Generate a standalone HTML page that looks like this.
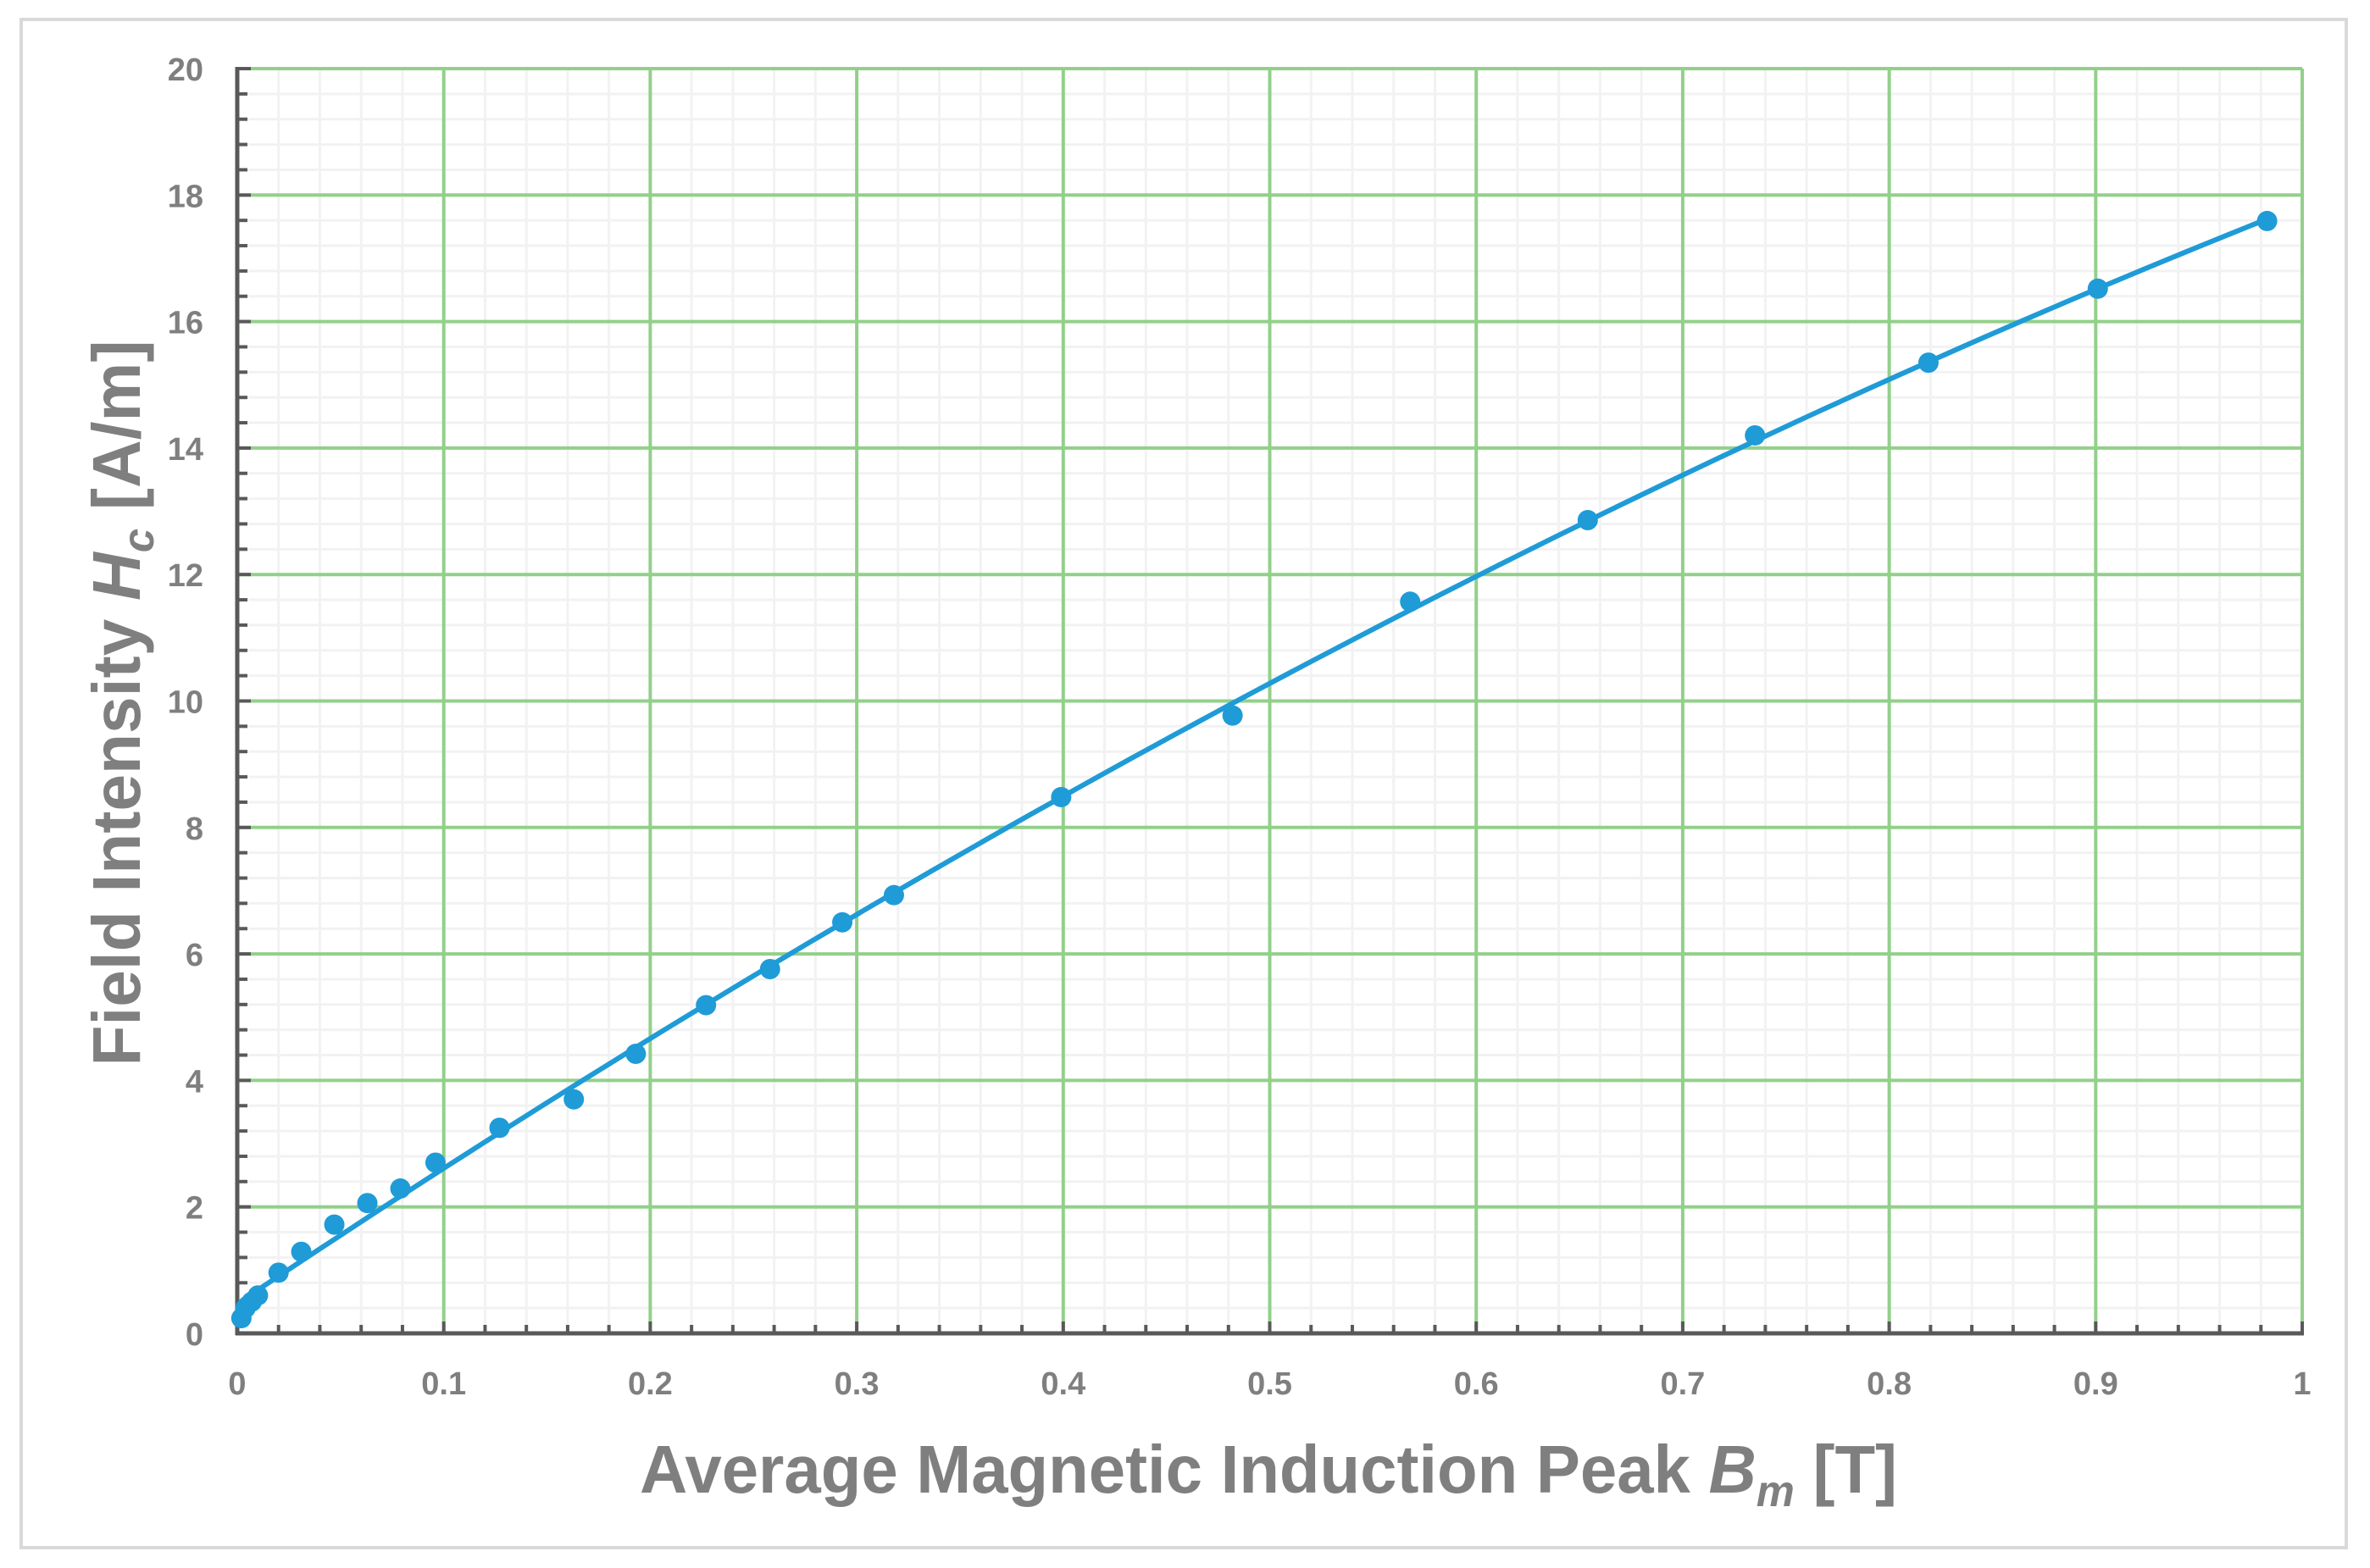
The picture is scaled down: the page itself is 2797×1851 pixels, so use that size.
<!DOCTYPE html>
<html><head><meta charset="utf-8"><style>
html,body{margin:0;padding:0;background:#fff;}
svg{display:block;font-family:"Liberation Sans",sans-serif;}
</style></head><body>
<svg id="chart" width="2797" height="1851" viewBox="0 0 2797 1851">
<rect x="25" y="23" width="2744" height="1804" fill="#fff" stroke="#d9d9d9" stroke-width="4"/>
<g id="grid"></g>
<g id="axes"></g>
<g id="series"></g>
<text x="1497" y="1762" text-anchor="middle" font-size="80" font-weight="bold" fill="#7f7f7f" textLength="1484" lengthAdjust="spacingAndGlyphs">Average Magnetic Induction Peak <tspan font-style="italic">B</tspan><tspan font-style="italic" font-size="52" dy="16">m</tspan><tspan dy="-16"> [T]</tspan></text>
<text transform="translate(165,830) rotate(-90)" text-anchor="middle" font-size="80" font-weight="bold" fill="#7f7f7f" textLength="857" lengthAdjust="spacingAndGlyphs">Field Intensity <tspan font-style="italic">H</tspan><tspan font-style="italic" font-size="52" dy="16">c</tspan><tspan dy="-16"> [A/m]</tspan></text>
</svg>
<script>
const bData=[0.002,0.004,0.007,0.010,0.020,0.031,0.047,0.063,0.079,0.096,0.127,0.163,0.193,0.227,0.258,0.293,0.318,0.399,0.482,0.568,0.654,0.735,0.819,0.901,0.983];
const hData=[0.24,0.40,0.50,0.60,0.96,1.29,1.72,2.06,2.29,2.70,3.25,3.70,4.42,5.19,5.76,6.50,6.93,8.48,9.77,11.57,12.86,14.20,15.35,16.52,17.59];
const xTicks=[0,0.1,0.2,0.3,0.4,0.5,0.6,0.7,0.8,0.9,1];
const xTickLabels=["0","0.1","0.2","0.3","0.4","0.5","0.6","0.7","0.8","0.9","1"];
const yTicks=[0,2,4,6,8,10,12,14,16,18,20];
const yTickLabels=["0","2","4","6","8","10","12","14","16","18","20"];
const NS="http://www.w3.org/2000/svg";
const L=280,R=2717,T=81,B=1574;
function sx(v){return L+(v-0)/(1-0)*(R-L);}
function sy(v){return B-(v-0)/(20-0)*(B-T);}
function mk(tag,attrs,parent){const e=document.createElementNS(NS,tag);for(const k in attrs)e.setAttribute(k,attrs[k]);parent.appendChild(e);return e;}
const grid=document.getElementById('grid'),axes=document.getElementById('axes'),series=document.getElementById('series');
for(let i=0;i<=50;i++){const v=i*0.02;if(i%5===0)continue;
 const l=mk('line',{x1:sx(v),x2:sx(v),y1:T,y2:B,stroke:'#f2f2f2','stroke-width':3},grid);
 
 }
for(let i=0;i<=50;i++){const v=i*0.4;if(i%5===0)continue;
 const l=mk('line',{x1:L,x2:R,y1:sy(v),y2:sy(v),stroke:'#f2f2f2','stroke-width':3},grid);
 
 }
xTicks.forEach(v=>{if(v===0)return;
 const l=mk('line',{x1:sx(v),x2:sx(v),y1:T,y2:B,stroke:'#92d08a','stroke-width':4},grid);
 
 });
yTicks.forEach(v=>{if(v===0)return;
 const l=mk('line',{x1:L,x2:R,y1:sy(v),y2:sy(v),stroke:'#92d08a','stroke-width':4},grid);
 
 });
const ya=mk('line',{x1:L,x2:L,y1:T-2,y2:B+2,stroke:'#595959','stroke-width':5},axes);


const xa=mk('line',{x1:L-2,x2:R+2,y1:B,y2:B,stroke:'#595959','stroke-width':5},axes);


for(let i=0;i<=50;i++){const v=i*0.4;const maj=i%5===0;
 const t=mk('line',{x1:L,x2:L+(maj?16:12),y1:sy(v),y2:sy(v),stroke:'#595959','stroke-width':4},axes);
 
 }
for(let i=0;i<=50;i++){const v=i*0.02;const maj=i%5===0;
 const t=mk('line',{x1:sx(v),x2:sx(v),y1:B,y2:B-(maj?14:10),stroke:'#595959','stroke-width':4},axes);
 
 }
yTicks.forEach((v,i)=>{const t=mk('text',{x:240,y:sy(v)+14,'text-anchor':'end','font-size':38,'font-weight':'bold',fill:'#7f7f7f'},axes);
 t.textContent=yTickLabels[i];
 
 });
xTicks.forEach((v,i)=>{const t=mk('text',{x:sx(v),y:1646,'text-anchor':'middle','font-size':38,'font-weight':'bold',fill:'#7f7f7f'},axes);
 t.textContent=xTickLabels[i];
 
 });
(function(){let n=bData.length,S=[0,0,0,0,0],Ty=[0,0,0];
 for(let i=0;i<n;i++){const x=bData[i],y=hData[i];let p=1;for(let k=0;k<5;k++){S[k]+=p;if(k<3)Ty[k]+=p*y;p*=x;}}
 const M=[[S[0],S[1],S[2],Ty[0]],[S[1],S[2],S[3],Ty[1]],[S[2],S[3],S[4],Ty[2]]];
 for(let c=0;c<3;c++){for(let r=c+1;r<3;r++){const f=M[r][c]/M[c][c];for(let k=c;k<4;k++)M[r][k]-=f*M[c][k];}}
 const co=[0,0,0];for(let r=2;r>=0;r--){let s=M[r][3];for(let k=r+1;k<3;k++)s-=M[r][k]*co[k];co[r]=s/M[r][r];}
 const x0=Math.min(...bData),x1=Math.max(...bData);let d='';
 for(let i=0;i<=100;i++){const x=x0+(x1-x0)*i/100;const y=co[0]+co[1]*x+co[2]*x*x;d+=(i?'L':'M')+sx(x).toFixed(1)+','+sy(y).toFixed(1);}
 const p=mk('path',{d:d,fill:'none',stroke:'#1f9bd7','stroke-width':6},series);
 
 })();
bData.forEach((b,i)=>{const c=mk('circle',{cx:sx(b),cy:sy(hData[i]),r:12,fill:'#1f9bd7'},series);
 
 });
</script>
</body></html>
